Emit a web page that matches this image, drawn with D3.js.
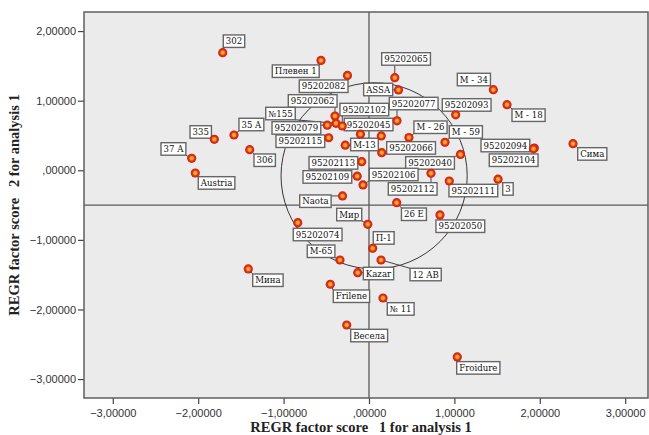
<!DOCTYPE html>
<html><head><meta charset="utf-8">
<script src="https://cdn.jsdelivr.net/npm/d3@7"></script>
<style>
body{margin:0;background:#fff;}
svg{display:block;}
text{white-space:pre;}
</style></head>
<body>
<svg id="chart" width="649" height="435"></svg>
<script>
// ---- data ----
const labels = ["302","Плевен 1","95202082","95202065","ASSA","95202062","№155","95202079","95202102","95202077","95202093","М - 34","М - 18","95202045","","335","35 A","95202115","М-13","М - 26","М - 59","95202066","95202094","95202104","Сима","37 A","306","95202113","95202040","95202106","95202109","95202112","95202111","3","Austria","Naota","26 E","Мир","95202050","95202074","П-1","М-65","Мина","Kazar","12 AB","Frilene","№ 11","Весела","Froidure"];
const score1 = [-1.713,-0.562,-0.252,0.302,0.345,-0.398,-0.386,-0.488,-0.313,0.328,1.015,1.456,1.616,-0.100,0.144,-1.811,-1.581,-0.472,-0.278,0.468,0.890,0.149,1.936,1.926,2.389,-2.076,-1.397,-0.085,1.071,-0.070,-0.138,0.726,0.940,1.511,-2.034,-0.310,0.324,-0.014,0.831,-0.834,0.043,-0.340,-1.413,-0.132,0.141,-0.453,0.164,-0.261,1.034];
const score2 = [1.690,1.578,1.362,1.330,1.154,0.780,0.675,0.648,0.636,0.711,0.797,1.158,0.943,0.519,0.493,0.445,0.507,0.467,0.361,0.471,0.402,0.253,0.320,0.309,0.382,0.172,0.296,0.124,0.227,-0.211,-0.085,-0.043,-0.154,-0.128,-0.039,-0.369,-0.466,-0.776,-0.642,-0.753,-1.121,-1.289,-1.418,-1.471,-1.289,-1.638,-1.835,-2.223,-2.682];
const xTicks = [-3,-2,-1,0,1,2,3];
const yTicks = [-3,-2,-1,0,1,2];
const refX = 0, refY = -0.5;
const circleCenter = [0.06,-0.08], circleRadiusX = 1.09;
const xTitle = "REGR factor score   1 for analysis 1";
const yTitle = "REGR factor score   2 for analysis 1";
// ---- layout (label box offsets in px from the point) ----
const labelOffsets = [[0.6,-17.7],[-48.7,4.5],[-48.2,4.5],[-13.1,-25],[-34.8,-6.7],[-46.7,-21.3],[-70.3,-16],[-55.3,-3.5],[-2.3,-22.7],[-7.7,-23.5],[-13.4,-16.1],[-36,-16.4],[5,4.3],[-16.2,-15.9],[0,0],[-24.3,-13.6],[5,-16.7],[-52.7,-2.8],[5.4,-6.9],[5,-16.5],[4.3,-16.6],[5,-11],[-53.3,-8.7],[-44.2,5.2],[4.7,4],[-30.7,-15.6],[4.3,4.3],[-52.7,-5],[-54.8,2.2],[6.3,-16.7],[-54.2,-5.5],[-42.7,9.4],[-0.3,3.3],[4.7,3.5],[3,3.7],[-42.8,-1],[4.8,5.3],[-31.1,-16],[-4,5],[-4.5,5.6],[0.6,-16.6],[-32.7,-15],[4.4,5],[5.6,-5.4],[29,8.3],[3,5.7],[4.3,4.7],[4,4.3],[-0.6,4.7]];

const svg = d3.select("#chart");
const m = {left:84, top:12, right:648, bottom:398};
const x = d3.scaleLinear().domain([-3.337,3.267]).range([m.left,m.right]);
const y = d3.scaleLinear().domain([-3.272,2.274]).range([m.bottom,m.top]);
const fmt = v => d3.format(".5f")(v).replace(".",",").replace(/^0,/, ",").replace(/^-0,/, "-,");

const defs = svg.append("defs");
const grad = defs.append("radialGradient").attr("id","mk");
grad.append("stop").attr("offset","0%").attr("stop-color","#ffc21c");
grad.append("stop").attr("offset","38%").attr("stop-color","#f59a1a");
grad.append("stop").attr("offset","60%").attr("stop-color","#e0301e");
grad.append("stop").attr("offset","100%").attr("stop-color","#c8201c");

svg.append("rect").attr("x",m.left).attr("y",m.top).attr("width",m.right-m.left).attr("height",m.bottom-m.top)
  .attr("fill","#ebebeb");

// axes
const xAxis = svg.append("g").attr("transform",`translate(0,${m.bottom})`)
  .call(d3.axisBottom(x).tickValues(xTicks).tickFormat(fmt).tickSize(6).tickSizeOuter(0));
const yAxis = svg.append("g").attr("transform",`translate(${m.left},0)`)
  .call(d3.axisLeft(y).tickValues(yTicks).tickFormat(fmt).tickSize(6).tickSizeOuter(0));
[xAxis,yAxis].forEach(g=>{
  g.select(".domain").remove();
  g.selectAll(".tick line").attr("stroke","#444").attr("stroke-width",1.2);
  g.selectAll(".tick text").attr("font-family","'Liberation Sans', Arial, sans-serif").attr("font-size",11).attr("fill","#333");
});
xAxis.selectAll(".tick text").attr("dy","0.95em");
yAxis.selectAll(".tick text").attr("x",-8);

// reference lines
svg.append("line").attr("x1",x(refX)).attr("x2",x(refX)).attr("y1",m.top).attr("y2",m.bottom).attr("stroke","#5a5a5a").attr("stroke-width",1.3);
svg.append("line").attr("x1",m.left).attr("x2",m.right).attr("y1",y(refY)).attr("y2",y(refY)).attr("stroke","#5a5a5a").attr("stroke-width",1.3);

// frame
svg.append("rect").attr("x",m.left).attr("y",m.top).attr("width",m.right-m.left).attr("height",m.bottom-m.top)
  .attr("fill","none").attr("stroke","#5f5f5f").attr("stroke-width",1.5);

// circle
svg.append("circle").attr("cx",x(circleCenter[0])).attr("cy",y(circleCenter[1]))
  .attr("r",x(circleRadiusX)-x(0)).attr("fill","none").attr("stroke","#222").attr("stroke-width",0.9);

const pts = labels.map((l,i)=>({label:l, px:x(score1[i]), py:y(score2[i]), off:labelOffsets[i]}));

// labels
const lg = svg.append("g");
const boxH = 12.5;
pts.forEach(p=>{
  if(!p.label) return;
  const g = lg.append("g");
  const t = g.append("text").text(p.label).attr("font-family","'DejaVu Serif', serif").attr("font-size",8.6)
    .attr("fill","#111");
  const w = t.node().getComputedTextLength() + 5;
  const bx = p.px + p.off[0], by = p.py + p.off[1];
  const cx = Math.max(bx, Math.min(p.px, bx+w)), cy = Math.max(by, Math.min(p.py, by+boxH));
  g.insert("line","text").attr("x1",p.px).attr("y1",p.py).attr("x2",cx).attr("y2",cy).attr("stroke","#444").attr("stroke-width",1);
  g.insert("rect","text").attr("x",bx).attr("y",by).attr("width",w).attr("height",boxH)
    .attr("fill","#fff").attr("stroke","#666").attr("stroke-width",1.4);
  t.attr("x",bx+2.5).attr("y",by+boxH/2).attr("dy","0.35em");
});

// markers
svg.append("g").selectAll("circle").data(pts).join("circle")
  .attr("cx",d=>d.px).attr("cy",d=>d.py).attr("r",4.6).attr("fill","url(#mk)");

// titles
svg.append("text").attr("x",361).attr("y",432).attr("text-anchor","middle")
  .attr("font-family","'Liberation Serif', 'DejaVu Serif', serif").attr("font-weight","bold").attr("font-size",14.5).attr("fill","#222")
  .text(xTitle);
svg.append("text").attr("transform",`translate(19,${(m.top+m.bottom)/2}) rotate(-90)`).attr("text-anchor","middle")
  .attr("font-family","'Liberation Serif', 'DejaVu Serif', serif").attr("font-weight","bold").attr("font-size",14.5).attr("fill","#222")
  .text(yTitle);
</script>
</body></html>
